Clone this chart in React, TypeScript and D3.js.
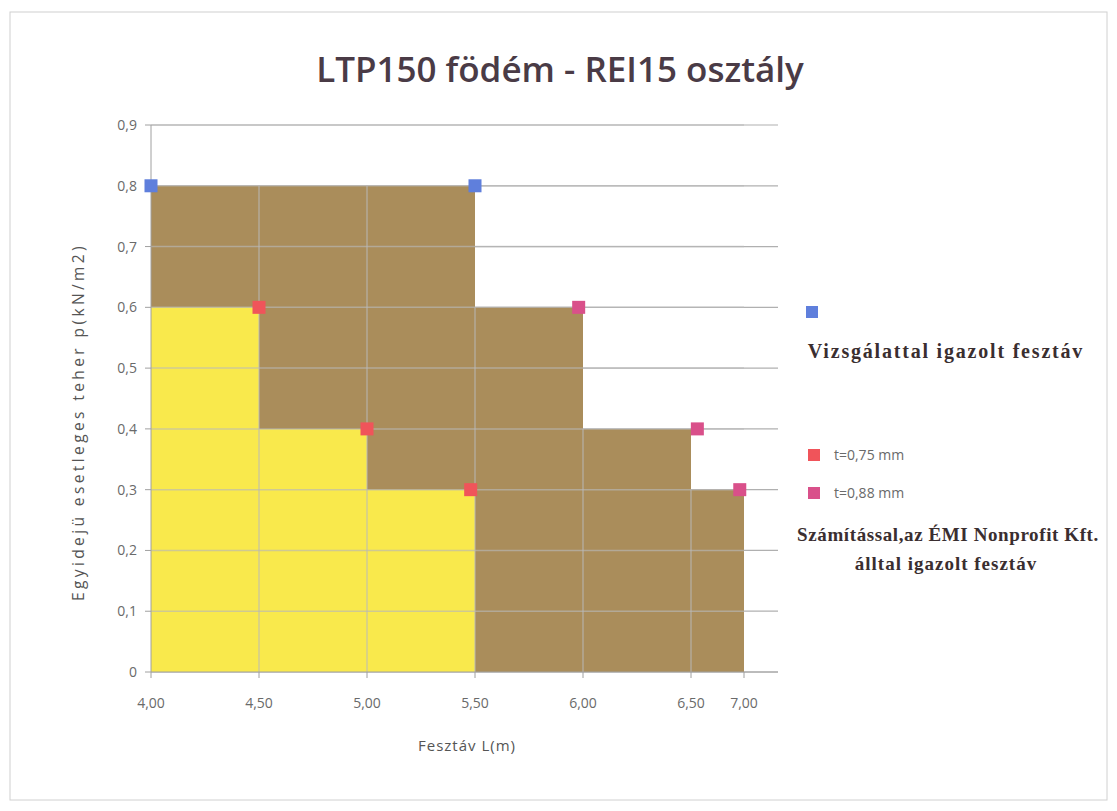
import React from "react";
import * as d3 from "d3";

// ---- data ----
const xTicks = [4.0, 4.5, 5.0, 5.5, 6.0, 6.5, 7.0];
const yTicks = [0, 0.1, 0.2, 0.3, 0.4, 0.5, 0.6, 0.7, 0.8, 0.9];
// brown envelope (steps)
const brownX = [4.0, 5.5, 6.0, 6.5, 7.0];
const brownY = [0.8, 0.6, 0.4, 0.3, 0.3];
// yellow envelope (steps)
const yellowX = [4.0, 4.5, 5.0, 5.5];
const yellowY = [0.6, 0.4, 0.3, 0.3];
// marker series
const testedX = [4.0, 5.5];
const testedY = [0.8, 0.8];
const t075X = [4.5, 5.0, 5.48];
const t075Y = [0.6, 0.4, 0.3];
const t088X = [5.98, 6.56, 6.96];
const t088Y = [0.6, 0.4, 0.3];

const COL_BROWN = "#aa8d5b";
const COL_YELLOW = "#f9e94c";
const COL_BLUE = "#5f7fdc";
const COL_RED = "#f0545a";
const COL_MAG = "#d9508a";

export default function App() {
  const W = 1117, H = 811;
  const x = d3.scaleLinear().domain([4.0, 6.5, 7.0]).range([151, 691, 744]);
  const y = d3.scaleLinear().domain([0, 0.9]).range([672, 125]);
  const xRight = 778;

  const area = d3
    .area<[number, number]>()
    .x((d) => x(d[0]))
    .y0(y(0))
    .y1((d) => y(d[1]))
    .curve(d3.curveStepAfter);

  const brown = brownX.map((v, i) => [v, brownY[i]] as [number, number]);
  const yellow = yellowX.map((v, i) => [v, yellowY[i]] as [number, number]);

  const brownTop = (v: number) => {
    let h = 0;
    for (let i = 0; i < brownX.length; i++) if (v >= brownX[i] - 1e-9) h = brownY[i];
    return h;
  };

  const fmt = (v: number) => v.toFixed(2).replace(".", ",");
  const fmtY = (v: number) => (v === 0 ? "0" : v.toFixed(1).replace(".", ","));

  const ms = 13;
  const markers = (xs: number[], ys: number[], c: string, k: string) =>
    xs.map((v, i) => (
      <rect key={k + i} x={x(v) - ms / 2} y={y(ys[i]) - ms / 2} width={ms} height={ms} fill={c} />
    ));

  const sans = "'Open Sans', 'Noto Sans', sans-serif";
  const serif = "'Liberation Serif', 'DejaVu Serif', serif";

  return (
    <svg width={W} height={H} style={{ position: "absolute", left: 0, top: 0, background: "#fff" }}>
      <rect x={10} y={12} width={1097} height={788} fill="#fff" stroke="#d0d0d0" strokeWidth={1} />
      <text x={560} y={82} textAnchor="middle" fontFamily={sans} fontSize={35} fontWeight={600} fill="#4a3b46">
        LTP150 födém - REI15 osztály
      </text>

      {/* gridlines under */}
      {yTicks.map((t) => (
        <line key={"g" + t} x1={x(4)} x2={xRight} y1={y(t)} y2={y(t)} stroke="#b0b0b0" strokeWidth={1.2} />
      ))}

      <path d={area(brown) || ""} fill={COL_BROWN} />
      <path d={area(yellow) || ""} fill={COL_YELLOW} />

      {/* gridlines over areas */}
      {yTicks.slice(1).map((t) => (
        <line key={"go" + t} x1={x(4)} x2={x(7)} y1={y(t)} y2={y(t)} stroke="#b8b8b8" strokeOpacity={0.65} strokeWidth={1.5} />
      ))}
      {xTicks.slice(1, -1).map((t) => (
        <line key={"vo" + t} x1={x(t)} x2={x(t)} y1={y(0)} y2={y(brownTop(t))} stroke="#b8b8b8" strokeOpacity={0.65} strokeWidth={1.5} />
      ))}

      {/* axes */}
      <line x1={x(4)} x2={x(4)} y1={y(0.9)} y2={y(0)} stroke="#a0a0a0" />
      <line x1={x(4)} x2={xRight} y1={y(0)} y2={y(0)} stroke="#a0a0a0" />
      {yTicks.map((t) => (
        <g key={"yt" + t}>
          <line x1={x(4) - 6} x2={x(4)} y1={y(t)} y2={y(t)} stroke="#a0a0a0" />
          <text x={137} y={y(t) + 5} textAnchor="end" fontFamily={sans} fontSize={14} fill="#6a6a6a">
            {fmtY(t)}
          </text>
        </g>
      ))}
      {xTicks.map((t) => (
        <g key={"xt" + t}>
          <line x1={x(t)} x2={x(t)} y1={y(0)} y2={y(0) + 6} stroke="#a0a0a0" />
          <text x={x(t)} y={708} textAnchor="middle" fontFamily={sans} fontSize={14} fill="#6a6a6a">
            {fmt(t)}
          </text>
        </g>
      ))}

      <text x={467} y={751} textAnchor="middle" fontFamily={sans} fontSize={15} letterSpacing={1} fill="#555">
        Fesztáv L(m)
      </text>
      <text
        transform={`translate(84,${422}) rotate(-90)`}
        textAnchor="middle"
        fontFamily={sans}
        fontSize={15.5}
        letterSpacing={3.4}
        fill="#555"
      >
        Egyidejü esetleges teher p(kN/m2)
      </text>

      {markers(testedX, testedY, COL_BLUE, "b")}
      {markers(t075X, t075Y, COL_RED, "r")}
      {markers(t088X, t088Y, COL_MAG, "m")}

      {/* legend */}
      <rect x={806} y={306} width={12} height={12} fill={COL_BLUE} />
      <text x={946} y={358} textAnchor="middle" fontFamily={serif} fontSize={20} fontWeight={700} letterSpacing={1.8} fill="#3a2e30">
        Vizsgálattal igazolt fesztáv
      </text>
      <rect x={808} y={449} width={12} height={12} fill={COL_RED} />
      <text x={834} y={460} fontFamily={sans} fontSize={14} fill="#6a6a6a">t=0,75 mm</text>
      <rect x={808} y={487} width={12} height={12} fill={COL_MAG} />
      <text x={834} y={498} fontFamily={sans} fontSize={14} fill="#6a6a6a">t=0,88 mm</text>
      <text x={948} y={541} textAnchor="middle" fontFamily={serif} fontSize={19} fontWeight={700} letterSpacing={0.6} fill="#3a2e30">
        Számítással,az ÉMI Nonprofit Kft.
      </text>
      <text x={946} y={570} textAnchor="middle" fontFamily={serif} fontSize={19} fontWeight={700} letterSpacing={1} fill="#3a2e30">
        álltal igazolt fesztáv
      </text>
    </svg>
  );
}
